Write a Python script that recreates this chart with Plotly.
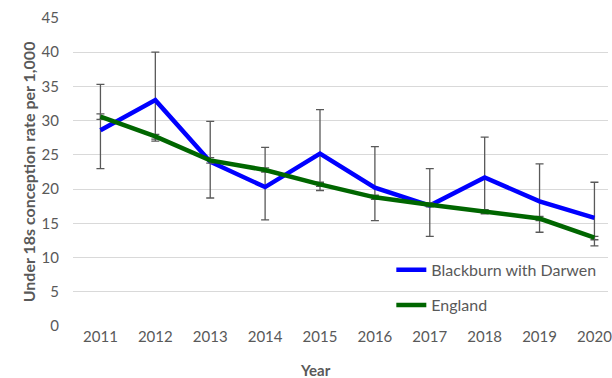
import plotly.graph_objects as go

# Under-18 conception rates per 1,000, with 95% confidence limits
years = ["2011", "2012", "2013", "2014", "2015", "2016", "2017", "2018", "2019", "2020"]

bwd_rate = [28.6, 33.0, 24.0, 20.3, 25.2, 20.2, 17.6, 21.7, 18.2, 15.8]
bwd_lower = [23.0, 27.0, 18.7, 15.5, 19.8, 15.4, 13.1, 16.9, 13.7, 11.7]
bwd_upper = [35.3, 40.0, 29.9, 26.1, 31.6, 26.2, 23.0, 27.6, 23.7, 21.0]

eng_rate = [30.6, 27.7, 24.2, 22.8, 20.7, 18.8, 17.7, 16.7, 15.7, 12.9]
eng_lower = [30.2, 27.3, 23.8, 22.5, 20.4, 18.5, 17.4, 16.4, 15.4, 12.6]
eng_upper = [31.0, 28.0, 24.6, 23.1, 21.0, 19.1, 18.0, 17.0, 16.0, 13.1]

y_ticks = [0, 5, 10, 15, 20, 25, 30, 35, 40, 45]

FONT = "Lato"
GREY = "#595959"
idx = list(range(len(years)))


def err(rate, lo, hi):
    return dict(
        type="data",
        symmetric=False,
        array=[h - r for r, h in zip(rate, hi)],
        arrayminus=[r - l for r, l in zip(rate, lo)],
        color=GREY,
        thickness=1.3,
        width=4,
    )


fig = go.Figure()
fig.add_trace(go.Scatter(
    x=idx, y=bwd_rate, mode="lines", name="Blackburn with Darwen",
    line=dict(color="#0000FF", width=4.5),
    error_y=err(bwd_rate, bwd_lower, bwd_upper),
    legend="legend", showlegend=True,
))
fig.add_trace(go.Scatter(
    x=idx, y=eng_rate, mode="lines", name="England",
    line=dict(color="#006600", width=4.5),
    error_y=err(eng_rate, eng_lower, eng_upper),
    legend="legend2", showlegend=True,
))

legend_style = dict(
    xanchor="left", yanchor="middle",
    bgcolor="rgba(255,255,255,0)",
    font=dict(family=FONT, size=16, color=GREY),
    itemwidth=30,
)

fig.update_layout(
    width=612, height=378,
    margin=dict(l=73, r=0, t=18, b=52),
    paper_bgcolor="white", plot_bgcolor="white",
    font=dict(family=FONT, size=15, color=GREY),
    showlegend=True,
    legend=dict(x=0.595, y=0.182, **legend_style),
    legend2=dict(x=0.595, y=0.068, **legend_style),
    xaxis=dict(
        range=[-0.5, 9.247],
        tickmode="array", tickvals=idx, ticktext=years,
        showgrid=False, zeroline=False,
        showline=False, ticks="",
        ticklabeloverflow="allow",
        tickfont=dict(family=FONT, size=15, color=GREY),
    ),
    yaxis=dict(
        range=[0, 45],
        tickmode="array", tickvals=y_ticks,
        showgrid=True, gridcolor="#D9D9D9", gridwidth=1,
        zeroline=False, showline=False, ticks="",
        ticklabelstandoff=13,
        tickfont=dict(family=FONT, size=15, color=GREY),
    ),
    annotations=[
        dict(text="<b>Under 18s conception rate per 1,000</b>",
             xref="paper", yref="paper", x=-0.0835, y=0.5,
             xanchor="center", yanchor="middle", textangle=-90,
             showarrow=False, font=dict(family=FONT, size=16, color=GREY)),
        dict(text="<b>Year</b>",
             xref="paper", yref="paper", x=(317 - 73) / 539, y=-0.143,
             xanchor="center", yanchor="middle",
             showarrow=False, font=dict(family=FONT, size=15, color=GREY)),
    ],
)

fig.write_html("out.html")
